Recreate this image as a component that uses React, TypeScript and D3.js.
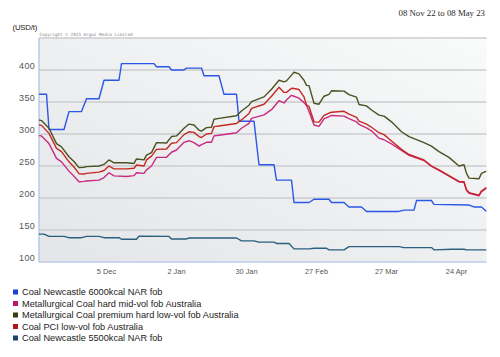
import React from "react";
import * as d3 from "d3";

const W = 500;
const H = 357;

const yTicks = [100, 150, 200, 250, 300, 350, 400];
const gridValues = [150, 200, 250, 300, 350, 400, 450];
const xTickDates = ["2022-12-05", "2023-01-02", "2023-01-30", "2023-02-27", "2023-03-27", "2023-04-24"];
const xTickLabels = ["5 Dec", "2 Jan", "30 Jan", "27 Feb", "27 Mar", "24 Apr"];

const seriesNames = [
  "Coal Newcastle 6000kcal NAR fob",
  "Metallurgical Coal hard mid-vol fob Australia",
  "Metallurgical Coal premium hard low-vol fob Australia",
  "Coal PCI low-vol fob Australia",
  "Coal Newcastle 5500kcal NAR fob",
];
const lineColors = ["#2b57e6", "#c92a82", "#4a5222", "#c42820", "#2a5f7e"];
const legendColors = ["#1c3fd8", "#b8186a", "#354010", "#b01414", "#1a4468"];

const newc6000: [string, number][] = [
  ["2022-11-08", 362], ["2022-11-11", 362], ["2022-11-12", 307], ["2022-11-18", 307],
  ["2022-11-20", 335], ["2022-11-25", 335], ["2022-11-27", 355], ["2022-12-02", 355],
  ["2022-12-04", 384], ["2022-12-10", 384], ["2022-12-11", 410], ["2022-12-24", 410],
  ["2022-12-25", 405], ["2022-12-30", 405], ["2022-12-31", 400], ["2023-01-05", 400],
  ["2023-01-06", 403], ["2023-01-12", 403], ["2023-01-13", 391], ["2023-01-19", 391],
  ["2023-01-21", 362], ["2023-01-26", 362], ["2023-01-27", 320], ["2023-02-02", 320],
  ["2023-02-04", 252], ["2023-02-10", 252], ["2023-02-11", 228], ["2023-02-17", 228],
  ["2023-02-18", 193], ["2023-02-24", 193], ["2023-02-26", 198], ["2023-03-04", 198],
  ["2023-03-05", 193], ["2023-03-10", 193], ["2023-03-12", 186], ["2023-03-17", 186],
  ["2023-03-19", 179], ["2023-04-01", 179], ["2023-04-03", 181], ["2023-04-07", 181],
  ["2023-04-08", 196], ["2023-04-14", 196], ["2023-04-15", 190], ["2023-04-29", 189],
  ["2023-05-01", 186], ["2023-05-04", 186], ["2023-05-06", 179],
];

const newc5500: [string, number][] = [
  ["2022-11-08", 143.5], ["2022-11-10", 143.5], ["2022-11-12", 140], ["2022-11-18", 140],
  ["2022-11-20", 138], ["2022-11-25", 138], ["2022-11-27", 140], ["2022-12-02", 140],
  ["2022-12-04", 138], ["2022-12-10", 138], ["2022-12-11", 135.5], ["2022-12-17", 135.5],
  ["2022-12-18", 140.5], ["2022-12-30", 140], ["2022-12-31", 136], ["2023-01-06", 136],
  ["2023-01-07", 137.5], ["2023-01-26", 137.5], ["2023-01-28", 133], ["2023-02-02", 133],
  ["2023-02-04", 131], ["2023-02-10", 131], ["2023-02-11", 129], ["2023-02-16", 129],
  ["2023-02-18", 120.5], ["2023-02-24", 120.5], ["2023-02-26", 121.5], ["2023-03-03", 121.5],
  ["2023-03-04", 119], ["2023-03-10", 119], ["2023-03-12", 124], ["2023-04-01", 124],
  ["2023-04-03", 122.5], ["2023-04-14", 122.5], ["2023-04-15", 119], ["2023-04-22", 120],
  ["2023-04-27", 120], ["2023-04-28", 119], ["2023-05-06", 119],
];

const metDates = [
  "2022-11-08", "2022-11-09", "2022-11-12", "2022-11-15", "2022-11-17", "2022-11-20", "2022-11-22",
  "2022-11-24", "2022-11-26", "2022-11-27", "2022-12-02", "2022-12-04", "2022-12-06", "2022-12-08",
  "2022-12-13", "2022-12-16", "2022-12-17", "2022-12-20", "2022-12-21", "2022-12-23", "2022-12-25",
  "2022-12-29", "2022-12-31", "2023-01-02", "2023-01-05", "2023-01-07", "2023-01-09", "2023-01-11",
  "2023-01-12", "2023-01-14", "2023-01-16", "2023-01-17", "2023-01-19", "2023-01-26", "2023-01-28",
  "2023-01-31", "2023-02-01", "2023-02-06", "2023-02-09", "2023-02-12", "2023-02-14", "2023-02-15",
  "2023-02-17", "2023-02-18", "2023-02-20", "2023-02-22", "2023-02-23", "2023-02-24", "2023-02-26",
  "2023-02-28", "2023-03-02", "2023-03-04", "2023-03-05", "2023-03-10", "2023-03-12", "2023-03-15",
  "2023-03-16", "2023-03-19", "2023-03-21", "2023-03-24", "2023-03-26", "2023-03-29", "2023-04-02",
  "2023-04-05", "2023-04-11", "2023-04-14", "2023-04-17", "2023-04-21", "2023-04-25", "2023-04-27",
  "2023-04-28", "2023-04-29", "2023-05-03", "2023-05-04", "2023-05-06",
];

const metPremiumHard = [
  322, 321, 309, 285, 280, 264.5, 257,
  247.5, 248, 249, 250, 252.5, 259.5, 255,
  255, 254, 261, 259.5, 267, 271, 286.5,
  286, 296, 297, 309, 315.5, 314, 306,
  304.5, 310, 310.5, 323, 324.5, 328.5, 336,
  345, 350.5, 358, 370, 384, 381.5, 383,
  392, 396.5, 394, 384, 376, 375.5, 348,
  346.5, 359, 362, 367.5, 367, 361.5, 357.5,
  346, 344, 337.5, 329.5, 328, 319, 303.5,
  296, 286.5, 281, 272.5, 263.5, 250, 252,
  238.5, 231, 230, 238.5, 242,
];

const coalPci = [
  314, 313.5, 301, 277.5, 272.5, 256.5, 248.5,
  238, 237.5, 238.5, 240.5, 243, 250, 245.5,
  245.5, 246.5, 251.5, 250, 259.5, 265.5, 276,
  276.5, 285.5, 286.5, 299, 303.5, 302.5, 296,
  294.5, 300, 301, 311.5, 312.5, 316.5, 322,
  332, 340, 346.5, 359, 373, 365, 365,
  371.5, 371, 369.5, 358, 345.5, 343, 319,
  318.5, 329, 332.5, 334, 335.5, 331, 326,
  320, 315.5, 310.5, 302, 299, 289, 276,
  268, 259.5, 250, 244, 235, 226, 225.5,
  213, 208.5, 204.5, 211, 216.5,
];

const metHardMid = [
  297.5, 297, 285, 262, 256.5, 242, 234,
  225.5, 226, 226.5, 228, 232, 239.5, 234.5,
  233.5, 235, 239.5, 238.5, 244, 250, 263.5,
  263.5, 271.5, 275, 287, 289.5, 286.5, 281,
  283.5, 287, 287, 297, 298, 302, 309,
  316.5, 324.5, 330, 338, 352, 348.5, 353,
  360.5, 359, 356, 349, 344.5, 335, 314,
  312, 323.5, 327, 329, 328, 324, 319,
  315, 309.5, 305, 293.5, 291, 284.5, 274.5,
  266.5, 258.5, 249.5, 243, 234, 225, 224.5,
  212, 207.5, 203.5, 210, 215.5,
];

const parse = d3.utcParse("%Y-%m-%d");

export default function App() {
  const plotL = 39;
  const plotR = 486.5;
  const plotT = 38;
  const plotB = 262;

  const x = d3
    .scaleUtc()
    .domain([parse("2022-11-08") as Date, parse("2023-05-06") as Date])
    .range([plotL, plotR]);
  const y = d3.scaleLinear().domain([100, 450]).range([plotB, plotT]);

  const line = d3
    .line<[Date, number]>()
    .x((d) => x(d[0]))
    .y((d) => y(d[1]));

  const toPts = (arr: [string, number][]) => arr.map(([d, v]) => [parse(d) as Date, v] as [Date, number]);
  const metPts = (vals: number[]) => metDates.map((d, i) => [parse(d) as Date, vals[i]] as [Date, number]);

  const series: [Date, number][][] = [
    toPts(newc6000),
    metPts(metHardMid),
    metPts(metPremiumHard),
    metPts(coalPci),
    toPts(newc5500),
  ];

  const sans = "'Liberation Sans', Arial, sans-serif";

  return (
    <svg
      width={W}
      height={H}
      viewBox={`0 0 ${W} ${H}`}
      style={{ position: "absolute", left: 0, top: 0, background: "#fff" }}
    >
      <defs>
        <linearGradient id="bg" x1="1" y1="0" x2="0" y2="1">
          <stop offset="0" stopColor="#f9fafa" />
          <stop offset="1" stopColor="#e3e5e8" />
        </linearGradient>
        <clipPath id="clip">
          <rect x={plotL} y={plotT - 2} width={plotR - plotL} height={plotB - plotT + 2} />
        </clipPath>
      </defs>

      <text x={485} y={16} textAnchor="end" fontFamily="'Liberation Serif', 'Times New Roman', serif" fontSize={8.8} fill="#2a2a2a">
        08 Nov 22 to 08 May 23
      </text>
      <text x={12.5} y={29.5} fontFamily={sans} fontSize={7.8} fill="#222" letterSpacing={-0.2}>
        (USD/t)
      </text>
      <text x={39.5} y={35.5} fontFamily="'DejaVu Sans Mono', monospace" fontSize={4.3} fill="#888">
        Copyright © 2023 Argus Media Limited
      </text>

      <rect x={plotL} y={plotT} width={plotR - plotL} height={plotB - plotT} fill="url(#bg)" />

      {gridValues.map((v) => (
        <line key={v} x1={plotL} x2={plotR} y1={y(v)} y2={y(v)} stroke="#cbcccf" strokeWidth={1.4} />
      ))}

      <line x1={plotL} x2={plotL} y1={plotT} y2={plotB} stroke="#b9c8e6" strokeWidth={1.5} />
      <line x1={plotL} x2={plotR} y1={plotB} y2={plotB} stroke="#bccbe8" strokeWidth={1.5} />

      {yTicks.map((v) => (
        <text key={v} x={35} y={y(v) - 1.5} textAnchor="end" fontFamily={sans} fontSize={9} letterSpacing={0.3} fill="#555">
          {v}
        </text>
      ))}

      {xTickDates.map((d, i) => (
        <text key={d} x={x(parse(d) as Date)} y={273.5} textAnchor="middle" fontFamily={sans} fontSize={7.4} fill="#555">
          {xTickLabels[i]}
        </text>
      ))}

      <g clipPath="url(#clip)">
        {series.map((pts, i) => (
          <path key={i} d={line(pts) || ""} fill="none" stroke={lineColors[i]} strokeWidth={1.4} strokeLinejoin="round" />
        ))}
      </g>

      {seriesNames.map((name, i) => (
        <g key={name} transform={`translate(0, ${292 + i * 11.5})`}>
          <rect x={13} y={-2.5} width={5} height={5} fill={legendColors[i]} />
          <text x={22} y={3} fontFamily={sans} fontSize={9.2} fill="#222">
            {name}
          </text>
        </g>
      ))}
    </svg>
  );
}
